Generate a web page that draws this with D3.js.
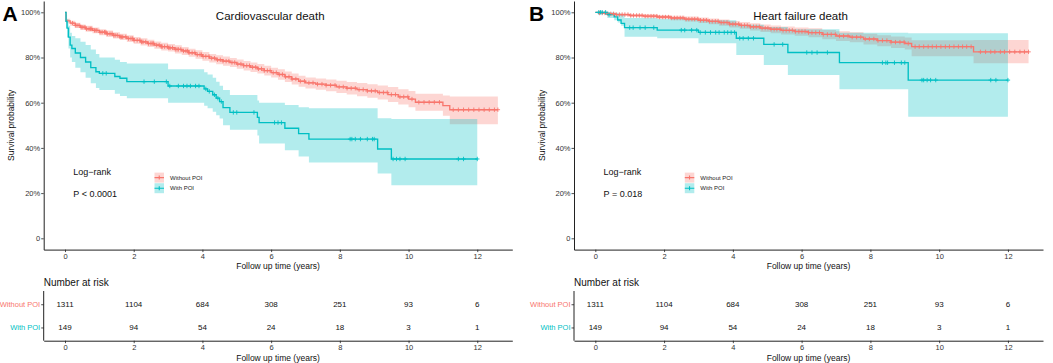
<!DOCTYPE html>
<html><head><meta charset="utf-8">
<script src="https://cdn.jsdelivr.net/npm/d3@7"></script>
<style>body{margin:0;background:#fff}svg{display:block}text{font-family:"Liberation Sans",Arial,Helvetica,sans-serif}</style>
</head><body><svg id="c" width="1053" height="363"></svg>
<script>
// ---------- data ----------
const groups = ["Without POI", "With POI"];
const groupColors = ["#F8766D", "#00BFC4"];
const timeTicks = [0, 2, 4, 6, 8, 10, 12];
const survTicks = [0, 0.2, 0.4, 0.6, 0.8, 1];
const survTickLabels = ["0", "20%", "40%", "60%", "80%", "100%"];
const riskWithout = [1311, 1104, 684, 308, 251, 93, 6];
const riskWith = [149, 94, 54, 24, 18, 3, 1];
const titles = ["Cardiovascular death", "Heart failure death"];
const panelLetters = ["A", "B"];
const pValues = ["P < 0.0001", "P = 0.018"];

// Panel A: cardiovascular death
const cvdWithoutTime = [0,0.03,0.15,0.3,0.45,0.6,0.8,1.0,1.2,1.4,1.6,1.8,2.0,2.2,2.4,2.6,2.8,3.0,3.2,3.4,3.6,3.8,4.0,4.2,4.4,4.6,4.8,5.0,5.2,5.4,5.6,5.8,6.0,6.2,6.4,6.6,6.8,7.0,7.3,7.6,7.9,8.2,8.5,8.8,9.1,9.4,9.7,10.0,10.2,11.0,11.2,12.6];
const cvdWithoutSurv = [1.0,0.962,0.952,0.942,0.934,0.927,0.920,0.912,0.905,0.898,0.891,0.884,0.876,0.869,0.862,0.855,0.848,0.843,0.836,0.829,0.821,0.813,0.805,0.797,0.790,0.784,0.778,0.771,0.764,0.757,0.750,0.742,0.733,0.725,0.715,0.705,0.695,0.688,0.682,0.677,0.670,0.664,0.658,0.652,0.645,0.636,0.626,0.616,0.602,0.587,0.569,0.569];
const cvdWithoutUpper = [1.0,0.972,0.963,0.954,0.946,0.940,0.933,0.925,0.919,0.912,0.905,0.899,0.891,0.885,0.878,0.871,0.865,0.860,0.854,0.847,0.839,0.832,0.824,0.816,0.810,0.804,0.798,0.791,0.785,0.778,0.771,0.764,0.755,0.748,0.738,0.729,0.719,0.712,0.707,0.703,0.697,0.692,0.687,0.682,0.676,0.669,0.660,0.652,0.640,0.632,0.627,0.627];
const cvdWithoutLower = [1.0,0.951,0.941,0.930,0.922,0.914,0.907,0.899,0.891,0.884,0.877,0.869,0.861,0.853,0.846,0.839,0.831,0.826,0.818,0.811,0.803,0.794,0.786,0.778,0.770,0.764,0.758,0.750,0.743,0.736,0.729,0.720,0.711,0.702,0.692,0.681,0.671,0.663,0.657,0.651,0.643,0.636,0.629,0.622,0.614,0.603,0.592,0.580,0.564,0.542,0.505,0.505];
const cvdWithoutCensor = [0.22,0.3,0.35,0.41,0.47,0.52,0.58,0.63,0.7,0.74,0.78,0.86,0.9,0.93,1.02,1.08,1.15,1.19,1.23,1.31,1.37,1.42,1.46,1.52,1.6,1.64,1.68,1.77,1.85,1.92,1.97,2.01,2.1,2.18,2.23,2.27,2.35,2.43,2.5,2.54,2.58,2.67,2.74,2.8,2.83,2.9,2.98,3.02,3.06,3.13,3.21,3.26,3.3,3.37,3.45,3.52,3.57,3.61,3.7,3.78,3.85,3.93,3.97,4.02,4.1,4.19,4.27,4.35,4.44,4.52,4.6,4.69,4.77,4.86,4.94,5.03,5.12,5.2,5.29,5.37,5.46,5.55,5.63,5.72,5.8,5.89,5.97,6.06,6.15,6.24,6.33,6.42,6.52,6.61,6.72,6.85,6.97,7.1,7.22,7.35,7.48,7.6,7.73,7.86,7.98,8.1,8.21,8.33,8.45,8.56,8.68,8.8,8.92,9.03,9.15,9.27,9.38,9.5,9.62,9.75,9.86,9.98,10.1,10.3,10.45,10.6,10.75,10.9,11.3,11.45,11.6,11.75,11.9,12.05,12.2,12.35,12.5,12.6];

const cvdWithTime = [0,0.03,0.06,0.1,0.15,0.2,0.3,0.45,0.6,0.75,0.9,1.0,1.45,1.6,1.8,3.0,4.05,4.15,4.3,4.4,4.5,4.6,4.8,5.6,5.65,6.4,6.8,7.1,9.1,9.5,12.0];
const cvdWithSurv = [1.0,0.96,0.93,0.89,0.855,0.84,0.82,0.80,0.78,0.755,0.737,0.73,0.716,0.708,0.693,0.674,0.661,0.65,0.635,0.62,0.605,0.578,0.557,0.535,0.512,0.487,0.463,0.439,0.395,0.351,0.351];
const cvdWithLower = [1.0,0.93,0.89,0.84,0.80,0.78,0.755,0.735,0.71,0.686,0.665,0.656,0.64,0.63,0.62,0.60,0.587,0.575,0.56,0.545,0.53,0.50,0.48,0.455,0.42,0.39,0.362,0.335,0.287,0.235,0.235];
const cvdWithUpper = [1.0,0.99,0.97,0.94,0.91,0.895,0.885,0.87,0.855,0.835,0.815,0.80,0.79,0.78,0.774,0.748,0.735,0.725,0.71,0.693,0.675,0.656,0.634,0.61,0.60,0.59,0.58,0.575,0.531,0.528,0.528];
const cvdWithCensor = [1.1,1.2,2.3,2.6,2.95,3.05,3.3,3.45,3.55,3.65,3.8,3.9,4.1,4.2,4.35,4.45,4.55,4.9,5.0,5.5,6.1,6.2,6.3,8.3,8.35,8.45,8.6,8.8,8.95,9.0,9.55,9.65,9.75,9.9,11.45,11.6,12.0];

// Panel B: heart failure death
const hfWithoutTime = [0,0.1,0.3,0.6,1.0,1.4,1.8,2.2,2.6,3.0,3.3,3.6,3.9,4.2,4.5,4.8,5.1,5.4,5.8,6.2,6.6,7.0,7.4,7.8,8.2,8.6,9.0,9.2,11.0,12.6];
const hfWithoutSurv = [1.0,0.997,0.993,0.99,0.986,0.983,0.979,0.975,0.97,0.965,0.96,0.955,0.948,0.942,0.936,0.93,0.925,0.92,0.915,0.91,0.902,0.895,0.89,0.882,0.875,0.868,0.862,0.848,0.825,0.825];
const hfWithoutUpper = [1.0,1.0,0.998,0.996,0.993,0.991,0.988,0.985,0.981,0.977,0.973,0.968,0.962,0.957,0.951,0.946,0.942,0.937,0.933,0.929,0.922,0.916,0.912,0.905,0.899,0.893,0.888,0.876,0.877,0.877];
const hfWithoutLower = [1.0,0.993,0.988,0.984,0.979,0.975,0.970,0.965,0.959,0.953,0.947,0.941,0.933,0.927,0.920,0.913,0.907,0.902,0.896,0.890,0.881,0.873,0.867,0.858,0.850,0.842,0.835,0.806,0.775,0.775];
const hfWithoutCensor = [0.12,0.2,0.28,0.37,0.45,0.53,0.61,0.7,0.78,0.86,0.95,1.03,1.11,1.2,1.28,1.36,1.45,1.53,1.62,1.7,1.79,1.87,1.96,2.04,2.13,2.21,2.3,2.38,2.47,2.55,2.64,2.72,2.81,2.89,2.98,3.06,3.15,3.23,3.32,3.4,3.49,3.57,3.66,3.74,3.83,3.91,4.0,4.08,4.17,4.25,4.34,4.42,4.51,4.6,4.68,4.77,4.85,4.94,5.02,5.11,5.2,5.28,5.37,5.46,5.55,5.64,5.73,5.82,5.92,6.01,6.1,6.2,6.3,6.41,6.52,6.63,6.75,6.86,6.98,7.1,7.22,7.35,7.47,7.6,7.72,7.85,7.97,8.1,8.22,8.35,8.48,8.6,8.73,8.86,8.98,9.1,9.3,9.42,9.55,9.68,9.8,9.92,10.05,10.18,10.3,10.43,10.56,10.68,10.8,10.93,11.2,11.35,11.5,11.62,11.78,11.9,12.05,12.2,12.35,12.48,12.6];

const hfWithTime = [0,0.35,0.55,0.65,0.75,0.85,1.8,3.0,4.1,4.9,5.6,7.1,9.1,12.0];
const hfWithSurv = [1.0,0.99,0.98,0.966,0.951,0.932,0.921,0.911,0.885,0.858,0.822,0.777,0.70,0.70];
const hfWithLower = [1.0,0.975,0.965,0.955,0.94,0.892,0.885,0.863,0.811,0.767,0.723,0.659,0.538,0.538];
const hfWithUpper = [1.0,1.0,0.998,0.995,0.99,0.975,0.97,0.965,0.945,0.935,0.925,0.91,0.907,0.907];
const hfWithCensor = [0.1,0.15,0.2,0.3,0.4,1.0,1.1,1.3,1.45,1.7,2.5,2.6,2.8,2.95,3.05,3.2,3.35,3.5,3.6,3.75,3.85,3.95,4.05,4.2,4.3,4.45,4.6,5.2,5.45,6.15,6.3,6.45,6.75,8.35,8.45,8.5,8.7,8.9,9.0,9.5,9.55,9.65,9.75,9.9,11.5,11.65,12.0];

// ---------- build ----------
const panelsData = [
  { curves: [
      {time: cvdWithoutTime, surv: cvdWithoutSurv, lo: cvdWithoutLower, hi: cvdWithoutUpper, cens: cvdWithoutCensor},
      {time: cvdWithTime, surv: cvdWithSurv, lo: cvdWithLower, hi: cvdWithUpper, cens: cvdWithCensor}
  ]},
  { curves: [
      {time: hfWithoutTime, surv: hfWithoutSurv, lo: hfWithoutLower, hi: hfWithoutUpper, cens: hfWithoutCensor},
      {time: hfWithTime, surv: hfWithSurv, lo: hfWithLower, hi: hfWithUpper, cens: hfWithCensor}
  ]}
];
const layout = [{axX: 43.7, right: 512.3}, {axX: 574, right: 1043}];
const risks = [riskWithout, riskWith];

const svg = d3.select("#c");
const FONT_AX = 7.5;

function survAt(c, t) {
  const i = Math.max(0, d3.bisectRight(c.time, t) - 1);
  return c.surv[i];
}

panelsData.forEach((pd, pi) => {
  const L = layout[pi];
  const g = svg.append("g");
  const x = d3.scaleLinear().domain([-0.62, 13.02]).range([L.axX, L.right]);
  const y = d3.scaleLinear().domain([-0.05, 1.05]).range([249.6, 1.0]);

  pd.curves.forEach((c, ci) => {
    const idx = d3.range(c.time.length);
    const area = d3.area().curve(d3.curveStepAfter)
      .x(i => x(c.time[i])).y0(i => y(c.lo[i])).y1(i => y(c.hi[i]));
    g.append("path").attr("d", area(idx)).attr("fill", groupColors[ci]).attr("fill-opacity", 0.3);
  });
  pd.curves.forEach((c, ci) => {
    const idx = d3.range(c.time.length);
    const line = d3.line().curve(d3.curveStepAfter)
      .x(i => x(c.time[i])).y(i => y(c.surv[i]));
    g.append("path").attr("d", line(idx)).attr("fill", "none")
      .attr("stroke", groupColors[ci]).attr("stroke-width", 1.35);
  });
  pd.curves.forEach((c, ci) => {
    const cg = g.append("g").attr("stroke", groupColors[ci]).attr("stroke-width", 0.9);
    c.cens.forEach(t => {
      const cx = x(t), cy = y(survAt(c, t));
      cg.append("path").attr("d", `M${cx - 2.2},${cy}H${cx + 2.2}M${cx},${cy - 2.2}V${cy + 2.2}`);
    });
  });

  const styleAxis = a => {
    a.select(".domain").attr("stroke", "#222").attr("stroke-width", 1);
    a.selectAll(".tick line").attr("stroke", "#222").attr("stroke-width", 0.8);
    a.selectAll(".tick text").attr("fill", "#333").attr("font-size", FONT_AX).attr("font-family", "Liberation Sans, Arial, sans-serif");
  };
  const xAxis = d3.axisBottom(x).tickValues(timeTicks).tickSize(2.5).tickSizeOuter(0).tickPadding(1.2);
  const yAxis = d3.axisLeft(y).tickValues(survTicks).tickFormat((d, i) => survTickLabels[i]).tickSize(2.5).tickSizeOuter(0).tickPadding(1);
  styleAxis(g.append("g").attr("transform", `translate(0,${y(-0.05)})`).call(xAxis));
  styleAxis(g.append("g").attr("transform", `translate(${L.axX},0)`).call(yAxis));

  g.append("text").attr("x", (L.axX + L.right) / 2).attr("y", 268.7).attr("text-anchor", "middle")
    .attr("font-size", 8.5).attr("fill", "#111").text("Follow up time (years)");
  g.append("text").attr("transform", `translate(${L.axX - 29.5},125.3) rotate(-90)`).attr("text-anchor", "middle")
    .attr("font-size", 8.5).attr("fill", "#111").text("Survival probability");

  g.append("text").attr("x", L.axX + 226.5).attr("y", 19.8).attr("text-anchor", "middle")
    .attr("font-size", 11.5).attr("fill", "#111").text(titles[pi]);
  g.append("text").attr("x", pi === 0 ? 2.5 : 529).attr("y", 20.5).attr("font-size", 21)
    .attr("font-weight", "bold").attr("fill", "#000").text(panelLetters[pi]);

  g.append("text").attr("x", L.axX + 29.6).attr("y", 175).attr("font-size", 9).attr("fill", "#111").text("Log\u2212rank");
  g.append("text").attr("x", L.axX + 29.6).attr("y", 196.6).attr("font-size", 9).attr("fill", "#111").text(pValues[pi]);

  groups.forEach((name, gi) => {
    const cy = 177.6 + gi * 10.6;
    const kx = L.axX + 110.8;
    g.append("rect").attr("x", kx).attr("y", cy - 5).attr("width", 9.5).attr("height", 10)
      .attr("fill", groupColors[gi]).attr("fill-opacity", 0.3);
    g.append("path").attr("d", `M${kx},${cy}H${kx + 9.5}M${kx + 4.75},${cy - 2}V${cy + 2}`)
      .attr("stroke", groupColors[gi]).attr("stroke-width", 1.1);
    g.append("text").attr("x", kx + 15.5).attr("y", cy + 2.1).attr("font-size", 6).attr("fill", "#222").text(name);
  });

  g.append("text").attr("x", L.axX).attr("y", 285.6).attr("font-size", 10).attr("fill", "#111").text("Number at risk");
  const yr = d3.scalePoint().domain(groups).range([291, 340.7]).padding(0.57);
  const rx = d3.axisBottom(x).tickValues(timeTicks).tickSize(2.5).tickSizeOuter(0).tickPadding(1.2);
  const ry = d3.axisLeft(yr).tickSize(2.5).tickSizeOuter(0).tickPadding(1);
  styleAxis(g.append("g").attr("transform", "translate(0,340.7)").call(rx));
  const gry = g.append("g").attr("transform", `translate(${L.axX},0)`).call(ry);
  styleAxis(gry);
  gry.selectAll(".tick text").attr("fill", d => groupColors[groups.indexOf(d)]);
  gry.select(".domain").attr("d", "M0,291V340.7");
  groups.forEach((name, gi) => {
    risks[gi].forEach((v, ti) => {
      g.append("text").attr("x", x(timeTicks[ti])).attr("y", yr(name) + 2.9)
        .attr("text-anchor", "middle").attr("font-size", 8).attr("fill", "#111").text(v);
    });
  });
  g.append("text").attr("x", (L.axX + L.right) / 2).attr("y", 361).attr("text-anchor", "middle")
    .attr("font-size", 8.5).attr("fill", "#111").text("Follow up time (years)");
});
</script></body></html>
